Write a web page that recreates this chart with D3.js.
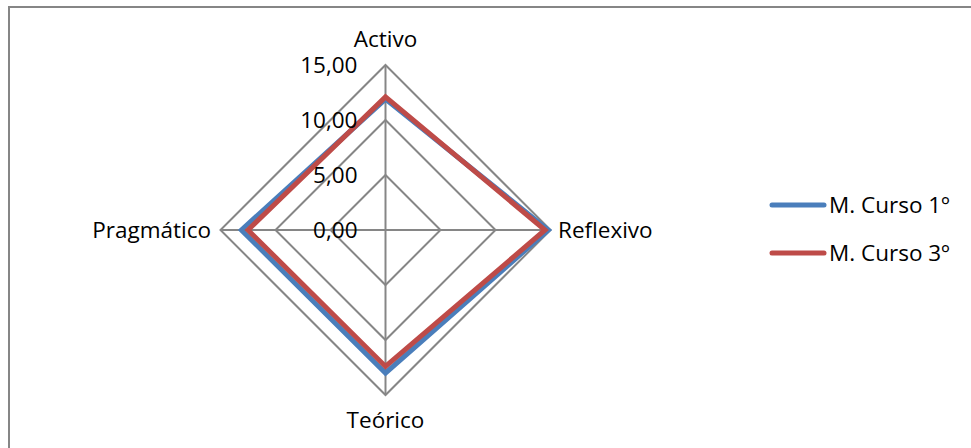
<!DOCTYPE html>
<html>
<head>
<meta charset="utf-8">
<script src="https://cdn.jsdelivr.net/npm/d3@7"></script>
<style>
  body { margin: 0; background: #fff; }
  text { font-family: "Open Sans", sans-serif; fill: #000; }
</style>
</head>
<body>
<div id="chart"></div>
<script>
let axesNames = ["Activo", "Reflexivo", "Teórico", "Pragmático"];
let seriesNames = ["M. Curso 1º", "M. Curso 3º"];
let curso1 = [11.9, 14.8, 13.0, 13.1];
let curso3 = [12.1, 14.5, 12.4, 12.5];
let ticks = [0, 5, 10, 15];
let colors = ["#4a7ebb", "#be4b48"];

let width = 971, height = 448;
let cx = 385.5, cy = 230, R = 165;
let fs = "22.5px";

let svg = d3.select("#chart").append("svg")
  .attr("width", width)
  .attr("height", height);

// outer border
svg.append("rect")
  .attr("x", 9).attr("y", 7)
  .attr("width", 1000).attr("height", 1000)
  .attr("fill", "none")
  .attr("stroke", "#868686")
  .attr("stroke-width", 2);

let r = d3.scaleLinear().domain([0, 15]).range([0, R]);
let angle = i => i * Math.PI * 2 / axesNames.length;
let pt = (i, v) => [cx + r(v) * Math.sin(angle(i)), cy - r(v) * Math.cos(angle(i))];

let g = svg.append("g");

// rings
ticks.filter(t => t > 0).forEach(t => {
  g.append("path")
    .attr("d", d3.line()(axesNames.map((a, i) => pt(i, t))) + "Z")
    .attr("fill", "none")
    .attr("stroke", "#868686")
    .attr("stroke-width", 2);
});

// spokes
axesNames.forEach((a, i) => {
  let p = pt(i, 15);
  g.append("line")
    .attr("x1", cx).attr("y1", cy)
    .attr("x2", p[0]).attr("y2", p[1])
    .attr("stroke", "#868686")
    .attr("stroke-width", 2);
});

// series
[curso1, curso3].forEach((vals, s) => {
  g.append("path")
    .attr("d", d3.line()(vals.map((v, i) => pt(i, v))) + "Z")
    .attr("fill", "none")
    .attr("stroke", colors[s])
    .attr("stroke-width", 5)
    .attr("stroke-linejoin", "miter");
});

// tick labels
ticks.forEach(t => {
  g.append("text")
    .attr("x", cx - 28)
    .attr("y", cy - r(t))
    .attr("dy", "0.35em")
    .attr("text-anchor", "end")
    .style("font-size", fs)
    .text(d3.format(".2f")(t).replace(".", ","));
});

// axis labels
let labelPos = [
  {x: cx, y: 47, anchor: "middle"},
  {x: 558, y: cy, anchor: "start", dy: "0.35em"},
  {x: cx, y: 428, anchor: "middle"},
  {x: 211, y: cy, anchor: "end", dy: "0.35em"}
];
axesNames.forEach((a, i) => {
  g.append("text")
    .attr("x", labelPos[i].x)
    .attr("y", labelPos[i].y)
    .attr("dy", labelPos[i].dy || 0)
    .attr("text-anchor", labelPos[i].anchor)
    .style("font-size", fs)
    .text(a);
});

// legend
let legend = svg.append("g");
seriesNames.forEach((n, s) => {
  let y = 205 + s * 48;
  legend.append("line")
    .attr("x1", 772).attr("x2", 824)
    .attr("y1", y).attr("y2", y)
    .attr("stroke", colors[s])
    .attr("stroke-width", 5)
    .attr("stroke-linecap", "round");
  legend.append("text")
    .attr("x", 829).attr("y", y)
    .attr("dy", "0.35em")
    .style("font-size", fs)
    .text(n);
});
</script>
</body>
</html>
